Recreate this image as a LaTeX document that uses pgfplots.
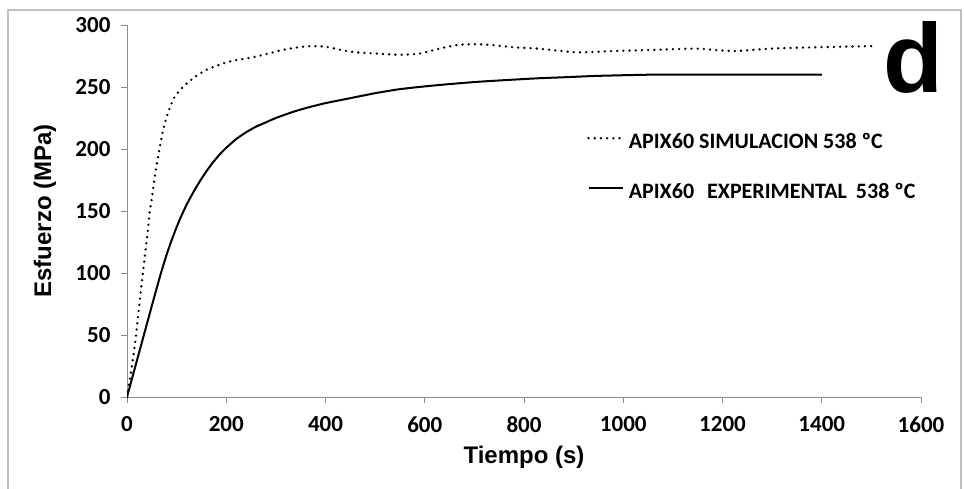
\documentclass[border=0pt]{standalone}
\usepackage{pgfplots}
\pgfplotsset{compat=1.18}
\usepackage{fontspec}
\setmainfont{Liberation Sans}
\newfontfamily\carlito{Carlito}

\pgfplotstableread{
t s
0 0
10 25
18 49
25 75
32 100
40 127
46 150
50 160
55 175
60 188
65 199
72 214
80 226
88 235
96 242
108 248
121 253
140 259
161 264
180 267
201 270
225 272
254 274
285 277
315 280
345 282
370 283
400 282.5
430 280
460 278
500 277
550 276
590 277
630 281
667 284
700 284.5
732 284
780 282
827 281
907 278
980 279
1067 280
1145 281
1180 280
1226 279
1300 281
1385 282
1500 283
}\sim

\pgfplotstableread{
t s
0 0
20 29.4
40 58.8
60 88
70 102
80 115
90 126.5
100 137
110 146.5
120 155
130 162.5
140 169.5
150 176
160 182
170 187.5
180 192.5
190 197
200 201
220 208
240 213.5
260 218
280 221.5
300 225
335 230
365 233.5
400 237
450 241
500 245
545 248
588 250
640 252
700 254
760 255.5
827 257
890 258
950 259
1067 260
1200 260
1300 260
1400 260
}\expt

\begin{document}
\begin{tikzpicture}[x=1pt,y=1pt]
\useasboundingbox (0,0) rectangle (964,488);
\draw[color=black!25, line width=1.5pt] (8,-5) -- (8,478) -- (961,478) -- (961,-5);
\begin{axis}[
  at={(127pt,91pt)}, anchor=south west,
  scale only axis, width=794pt, height=372pt,
  xmin=0, xmax=1600, ymin=0, ymax=300,
  separate axis lines,
  axis x line*=bottom, axis y line*=left,
  x axis line style={-}, y axis line style={-},
  axis line style={draw=black!45, line width=1pt},
  tick style={draw=black!45, line width=1pt},
  tick align=outside, major tick length=6pt,
  xtick={0,200,...,1600}, ytick={0,50,...,300},
  minor tick num=0,
  /pgf/number format/1000 sep={},
  /pgf/number format/assume math mode=true,
  tick label style={font=\carlito\bfseries\fontsize{23}{23}\selectfont},
  yticklabel style={xshift=-7pt},
  xticklabel style={yshift=-10pt},
  label style={font=\bfseries\fontsize{24}{24}\selectfont},
  xlabel={Tiempo (s)}, ylabel={Esfuerzo (MPa)},
  x label style={at={(axis description cs:0.5,-0.1613)}, anchor=center},
  y label style={at={(axis description cs:-0.1033,0.5)}, anchor=center, rotate=0},
  legend style={at={(axis cs:927,184.5)}, anchor=west, draw=none, fill=none,
    inner sep=0pt, row sep=30pt, column sep=5pt,
    font=\carlito\bfseries\fontsize{22}{22}\selectfont,
    nodes={inner sep=0pt, text height=15pt, text depth=5pt}},
  legend cell align=left,
  legend image code/.code={\draw[#1] (0pt,5pt) -- (34pt,5pt);},
]
\addplot[black, line width=2.6pt, line cap=round, dash pattern=on 0pt off 6.2pt, smooth, tension=0.4] table[x=t,y=s]{\sim};
\addlegendentry{APIX60 SIMULACION 538 ºC}
\addplot[black, line width=2pt, smooth, tension=0.4] table[x=t,y=s]{\expt};
\addlegendentry{APIX60\hspace{13pt}EXPERIMENTAL\hspace{9pt}538 ºC}
\end{axis}
\node[anchor=base west, inner sep=0pt, font=\bfseries\fontsize{98}{98}\selectfont] at (883,395) {d};
\end{tikzpicture}
\end{document}
